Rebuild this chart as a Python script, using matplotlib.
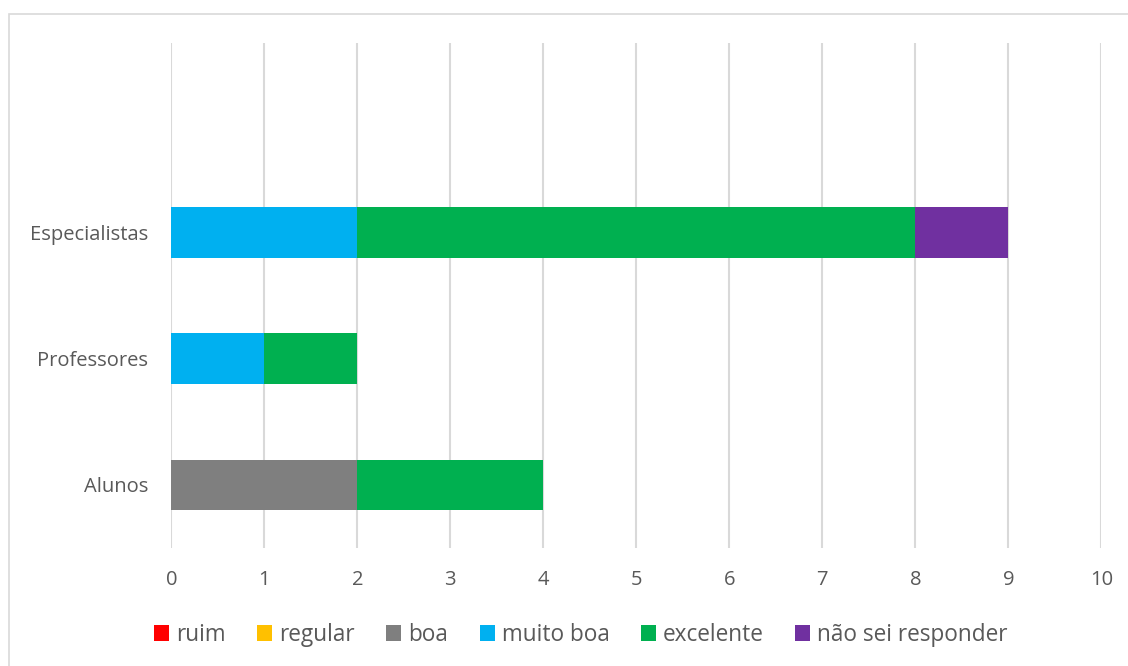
import matplotlib.pyplot as plt
from matplotlib.patches import Rectangle
import numpy as np

plt.rcParams['font.family'] = ['Open Sans', 'DejaVu Sans']

# grupos (de baixo para cima); a última linha fica vazia
grupos = ['Alunos', 'Professores', 'Especialistas', '']
respostas = ['ruim', 'regular', 'boa', 'muito boa', 'excelente', 'não sei responder']
cores = ['#ff0000', '#ffc000', '#7f7f7f', '#00b0f0', '#00b050', '#7030a0']

ruim = [0, 0, 0, 0]
regular = [0, 0, 0, 0]
boa = [2, 0, 0, 0]
muito_boa = [0, 1, 2, 0]
excelente = [2, 1, 6, 0]
nao_sei = [0, 0, 1, 0]

series = [ruim, regular, boa, muito_boa, excelente, nao_sei]
texto = '#595959'
tam = 14.5
tam_leg = 16.3

fig = plt.figure(figsize=(11.28, 6.66), dpi=100)
# moldura do gráfico
fig.patches.append(Rectangle((9 / 1128, -0.1), 1.2, (666 - 13.5) / 666 + 0.1,
                             transform=fig.transFigure, fill=False,
                             edgecolor='#d9d9d9', linewidth=1.2))

ax = fig.add_axes([171.3 / 1128, (666 - 548) / 666, 930 / 1128, 505 / 666])
y = np.arange(len(grupos))
esquerda = np.zeros(len(grupos))
for nome, vals, cor in zip(respostas, series, cores):
    vals = np.array(vals, dtype=float)
    ax.barh(y, vals, left=esquerda, height=0.4, color=cor, label=nome, zorder=3)
    esquerda += vals

ax.set_xlim(0, 10)
ax.set_ylim(-0.5, len(grupos) - 0.5)
ax.set_xticks(range(0, 11))
ax.set_yticks(y)
ax.set_yticklabels(grupos)
ax.grid(axis='x', color='#d9d9d9', linewidth=1.5, zorder=0)
ax.grid(axis='y', visible=False)
for s in ax.spines.values():
    s.set_visible(False)
ax.tick_params(axis='both', length=0, labelsize=tam, colors=texto)
ax.tick_params(axis='x', pad=16)
ax.tick_params(axis='y', pad=16.5)

leg = fig.legend(loc='center', bbox_to_anchor=(581 / 1128, (666 - 635) / 666), ncol=6,
                 frameon=False, fontsize=tam_leg, handlelength=0.66, handleheight=0.66,
                 handletextpad=0.3, columnspacing=1.4, labelcolor=texto)

fig.savefig('out.png', dpi=100)
